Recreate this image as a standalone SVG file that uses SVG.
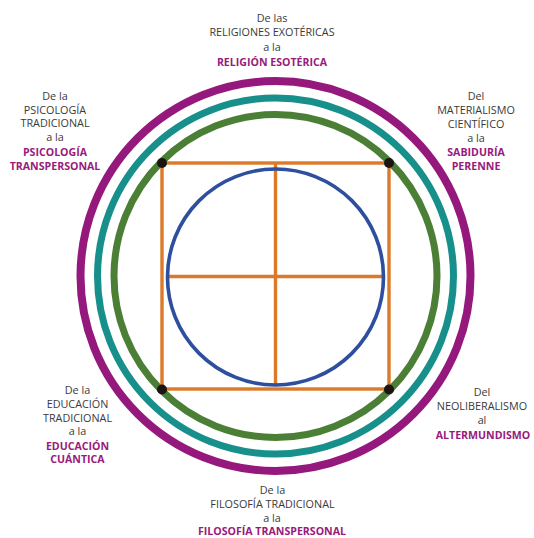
<svg xmlns="http://www.w3.org/2000/svg" width="534" height="538" viewBox="0 0 534 538">
<style>
.ring{fill:none}
.t{font-family:"Open Sans","Liberation Sans",sans-serif;font-size:10.8px;fill:#3a3a3a;text-anchor:middle}
.b{font-family:"Open Sans","Liberation Sans",sans-serif;font-size:10.6px;font-weight:bold;fill:#981a7c;text-anchor:middle}
.or{stroke:#dc7a2a;stroke-width:3.4;fill:none}
.dot{fill:#1b1414}
</style>
<rect width="534" height="538" fill="#ffffff"/>
<g id="rings">
<circle class="ring" cx="275.5" cy="276" r="195" stroke="#95187c" stroke-width="8"/>
<circle class="ring" cx="275.5" cy="276" r="178" stroke="#178f8b" stroke-width="7"/>
<circle class="ring" cx="275.5" cy="276" r="161.5" stroke="#4a7f35" stroke-width="7"/>
</g>
<g id="square">
<rect class="or" x="162" y="163" width="227" height="226"/>
</g>
<g id="connectors">
<line class="or" x1="275.5" y1="163" x2="275.5" y2="385"/>
<line class="or" x1="168" y1="276.5" x2="382" y2="276.5"/>
</g>
<g id="circle">
<circle cx="275.5" cy="277" r="108" fill="none" stroke="#2e4f9e" stroke-width="3.6"/>
</g>
<g id="dots">
<circle class="dot" cx="162" cy="163" r="5"/>
<circle class="dot" cx="389" cy="163" r="5"/>
<circle class="dot" cx="162" cy="389.5" r="5"/>
<circle class="dot" cx="389" cy="389.5" r="5"/>
</g>
<g id="label-top">
<text class="t" x="272" y="21.5">De las</text>
<text class="t" x="272" y="36">RELIGIONES EXOTÉRICAS</text>
<text class="t" x="272" y="50.5">a la</text>
<text class="b" x="272" y="65.5">RELIGIÓN ESOTÉRICA</text>
</g>
<g id="label-top-left">
<text class="t" x="55" y="99.5">De la</text>
<text class="t" x="55" y="113.5">PSICOLOGÍA</text>
<text class="t" x="55" y="127">TRADICIONAL</text>
<text class="t" x="55" y="141">a la</text>
<text class="b" x="55" y="156">PSICOLOGÍA</text>
<text class="b" x="55" y="170">TRANSPERSONAL</text>
</g>
<g id="label-top-right">
<text class="t" x="476" y="99.5">Del</text>
<text class="t" x="476" y="113.5">MATERIALISMO</text>
<text class="t" x="476" y="127.5">CIENTÍFICO</text>
<text class="t" x="476" y="141.5">a la</text>
<text class="b" x="476" y="156">SABIDURÍA</text>
<text class="b" x="476" y="170">PERENNE</text>
</g>
<g id="label-bottom-left">
<text class="t" x="77.5" y="394">De la</text>
<text class="t" x="77.5" y="408">EDUCACIÓN</text>
<text class="t" x="77.5" y="421.5">TRADICIONAL</text>
<text class="t" x="77.5" y="435">a la</text>
<text class="b" x="77.5" y="449.5">EDUCACIÓN</text>
<text class="b" x="77.5" y="463">CUÁNTICA</text>
</g>
<g id="label-bottom-right">
<text class="t" x="482" y="396">Del</text>
<text class="t" x="482" y="410">NEOLIBERALISMO</text>
<text class="t" x="482" y="424">al</text>
<text class="b" x="483" y="438.5">ALTERMUNDISMO</text>
</g>
<g id="label-bottom">
<text class="t" x="272.5" y="493.5">De la</text>
<text class="t" x="272.5" y="507.5">FILOSOFÍA TRADICIONAL</text>
<text class="t" x="272" y="521.5">a la</text>
<text class="b" x="272" y="535">FILOSOFÍA TRANSPERSONAL</text>
</g>
</svg>
